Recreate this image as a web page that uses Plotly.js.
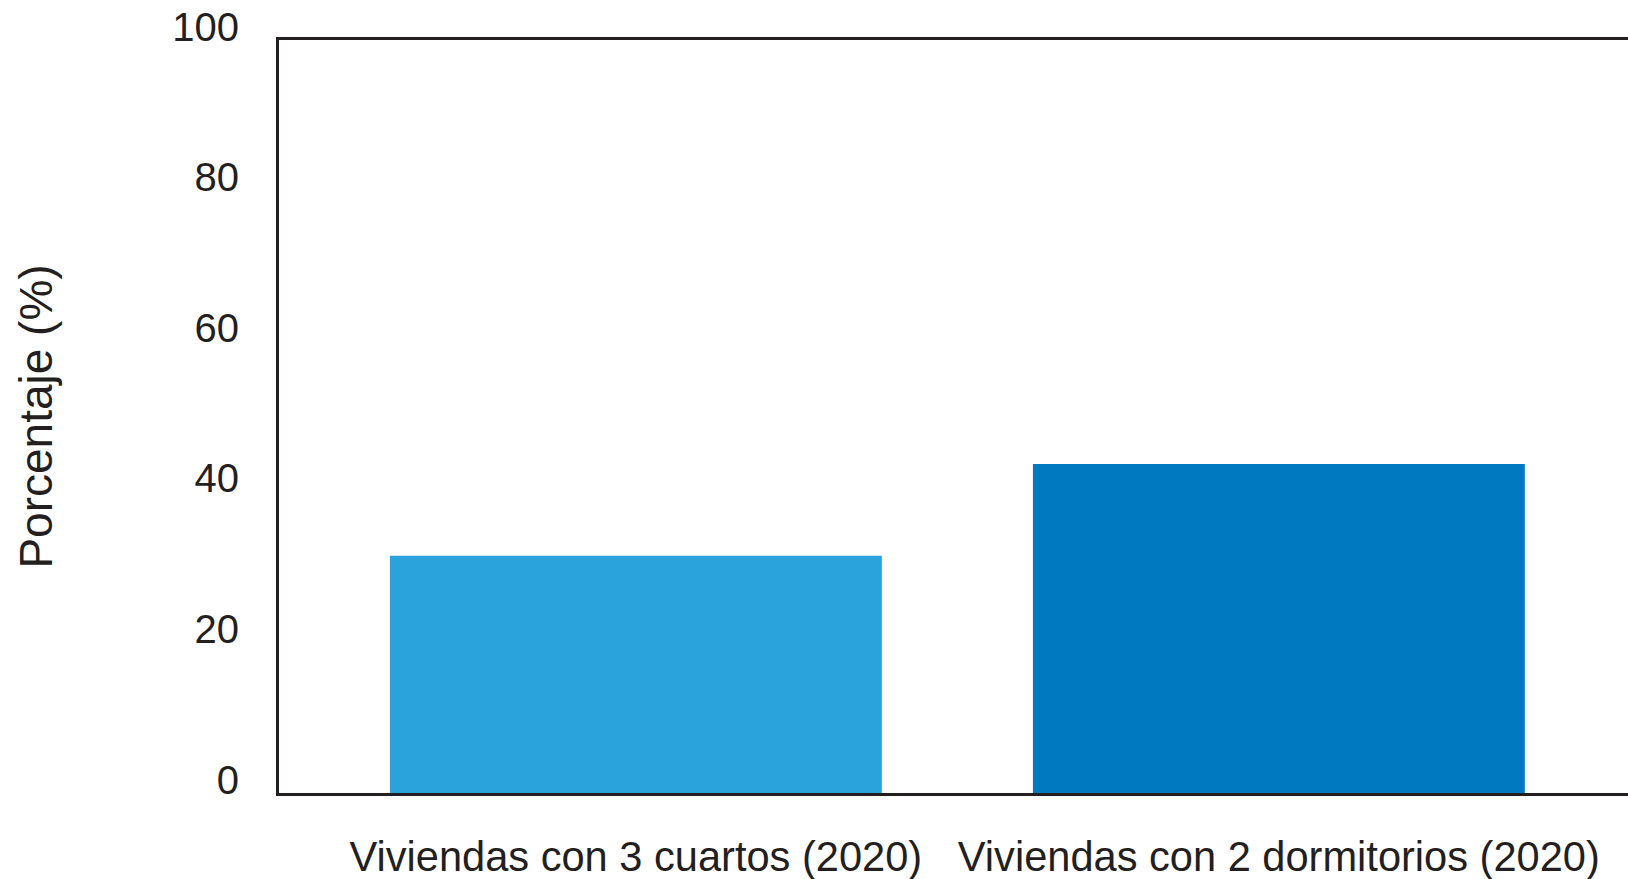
<!DOCTYPE html>
<html>
<head>
<meta charset="utf-8">
<script src="https://cdn.plot.ly/plotly-3.0.1.min.js"></script>
<style>
  html, body { margin: 0; padding: 0; background: #fff; overflow: hidden; }
</style>
</head>
<body>
<div id="plot-0"></div>
<script>
var categories = ['Viviendas con 3 cuartos (2020)', 'Viviendas con 2 dormitorios (2020)'];
var values = [31.5, 43.7];
var barColors = ['#2aa2dc', '#0079c0'];
var yTicks = [0, 20, 40, 60, 80, 100];

var textColor = '#231f20';

function createPlot(divName) {
    var data = [{
        type: 'bar',
        x: categories,
        y: values,
        width: 0.765,
        marker: { color: barColors, line: { width: 0 } },
        hoverinfo: 'x+y'
    }, {
        // empty trace so the label axis gets drawn
        type: 'scatter',
        x: [],
        y: [],
        yaxis: 'y2',
        hoverinfo: 'skip'
    }];

    // labels sit above their value, so they live on a second y axis
    // (taller domain) whose range is moved down by ~13.5px
    var plotTop = 10, plotBottom = 86, plotH = 879 - plotTop - plotBottom;
    var yTopPx = 40;
    var yDomTop = (879 - plotBottom - yTopPx) / plotH;
    var pxPerUnit = (879 - plotBottom - yTopPx) / 100;
    var shift = 13.5 / pxPerUnit;

    var layout = {
        width: 1628,
        height: 879,
        margin: { l: 279, r: 0, t: plotTop, b: plotBottom, pad: 0 },
        paper_bgcolor: '#fff',
        plot_bgcolor: 'rgba(0,0,0,0)',
        showlegend: false,
        font: { family: '"Liberation Sans", Arial, sans-serif', color: textColor },
        xaxis: {
            type: 'category',
            range: [-0.555, 1.543],
            showline: true,
            mirror: true,
            linewidth: 3.3,
            linecolor: textColor,
            showgrid: false,
            zeroline: false,
            ticks: '',
            ticklabelstandoff: 25,
            tickfont: { size: 41.6, color: textColor }
        },
        yaxis: {
            domain: [0, yDomTop],
            range: [0, 100],
            showline: true,
            mirror: false,
            linewidth: 3.3,
            linecolor: textColor,
            showgrid: false,
            zeroline: false,
            showticklabels: false,
            ticks: '',
            title: { text: 'Porcentaje (%)', font: { size: 46, color: textColor }, standoff: 209 }
        },
        yaxis2: {
            domain: [0, 1],
            anchor: 'x',
            side: 'left',
            range: [-shift, -shift + plotH / pxPerUnit],
            tickvals: yTicks,
            ticktext: yTicks.map(String),
            showline: false,
            showgrid: false,
            zeroline: false,
            ticks: '',
            ticklabelstandoff: 39,
            tickfont: { size: 40, color: textColor }
        }
    };

    Plotly.newPlot(divName, data, layout, { staticPlot: true });
}

createPlot('plot-0');
</script>
</body>
</html>
